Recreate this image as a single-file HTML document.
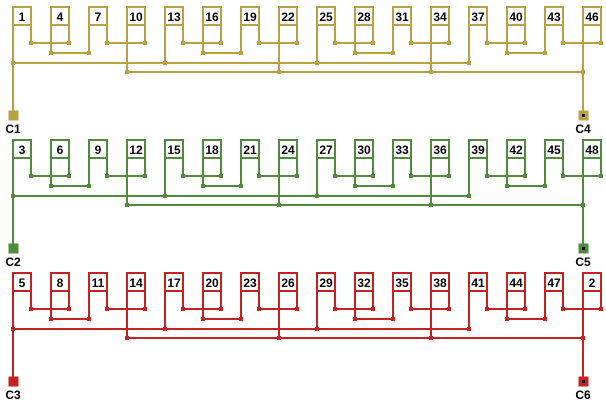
<!DOCTYPE html>
<html><head><style>
html,body{margin:0;padding:0;background:#fff;}
svg{display:block;}
text{font-family:"Liberation Sans",sans-serif;font-weight:bold;font-size:12px;text-anchor:middle;fill:#000;}
</style></head><body>
<svg width="606" height="405" viewBox="0 0 606 405" xmlns="http://www.w3.org/2000/svg">
<defs>
<g id="grp" fill="none" stroke-width="2">
  <rect x="0" y="7" width="18" height="18" fill="#fff"/>
  <rect x="38" y="7" width="18" height="18" fill="#fff"/>
  <rect x="76" y="7" width="18" height="18" fill="#fff"/>
  <rect x="114" y="7" width="18" height="18" fill="#fff"/>
  <path d="M18 25V43M0 25V63M56 25V43M38 25V53M76 25V53M94 25V43M132 25V43M114 25V72M18 43H56M38 53H76M94 43H132"/>
</g>
<g id="nodes">
  <rect x="16.5" y="41.5" width="3" height="3"/><rect x="54.5" y="41.5" width="3" height="3"/>
  <rect x="36.5" y="51.5" width="3" height="3"/><rect x="74.5" y="51.5" width="3" height="3"/>
  <rect x="92.5" y="41.5" width="3" height="3"/><rect x="130.5" y="41.5" width="3" height="3"/>
  <rect x="-1.5" y="61.5" width="3" height="3"/><rect x="112.5" y="70.5" width="3" height="3"/>
</g>
<g id="sec">
  <use href="#grp" x="13"/><use href="#grp" x="165"/><use href="#grp" x="317"/><use href="#grp" x="469"/>
  <use href="#nodes" x="13"/><use href="#nodes" x="165"/><use href="#nodes" x="317"/><use href="#nodes" x="469"/>
  <path d="M13 63H469M127 72H583M13 63V111M583 72V111" fill="none" stroke-width="2"/>
  <rect x="9" y="111" width="9" height="9"/>
  <rect x="579" y="111" width="9" height="9"/>
  <rect x="581.5" y="113.5" width="4" height="4" fill="#000"/>
</g>
</defs>
<g stroke="#b9a043" fill="#b9a043"><use href="#sec"/></g>
<g stroke="#4f8a3e" fill="#4f8a3e"><use href="#sec" y="133"/></g>
<g stroke="#c42222" fill="#c42222"><use href="#sec" y="266"/></g>

<g>
<text x="22" y="21">1</text><text x="60" y="21">4</text><text x="98" y="21">7</text><text x="136" y="21">10</text>
<text x="174" y="21">13</text><text x="212" y="21">16</text><text x="250" y="21">19</text><text x="288" y="21">22</text>
<text x="326" y="21">25</text><text x="364" y="21">28</text><text x="402" y="21">31</text><text x="440" y="21">34</text>
<text x="478" y="21">37</text><text x="516" y="21">40</text><text x="554" y="21">43</text><text x="592" y="21">46</text>
<text x="13" y="133">C1</text><text x="583" y="133">C4</text>
</g>
<g>
<text x="22" y="154">3</text><text x="60" y="154">6</text><text x="98" y="154">9</text><text x="136" y="154">12</text>
<text x="174" y="154">15</text><text x="212" y="154">18</text><text x="250" y="154">21</text><text x="288" y="154">24</text>
<text x="326" y="154">27</text><text x="364" y="154">30</text><text x="402" y="154">33</text><text x="440" y="154">36</text>
<text x="478" y="154">39</text><text x="516" y="154">42</text><text x="554" y="154">45</text><text x="592" y="154">48</text>
<text x="13" y="266">C2</text><text x="583" y="266">C5</text>
</g>
<g>
<text x="22" y="287">5</text><text x="60" y="287">8</text><text x="98" y="287">11</text><text x="136" y="287">14</text>
<text x="174" y="287">17</text><text x="212" y="287">20</text><text x="250" y="287">23</text><text x="288" y="287">26</text>
<text x="326" y="287">29</text><text x="364" y="287">32</text><text x="402" y="287">35</text><text x="440" y="287">38</text>
<text x="478" y="287">41</text><text x="516" y="287">44</text><text x="554" y="287">47</text><text x="592" y="287">2</text>
<text x="13" y="399">C3</text><text x="583" y="399">C6</text>
</g>
</svg>
</body></html>
